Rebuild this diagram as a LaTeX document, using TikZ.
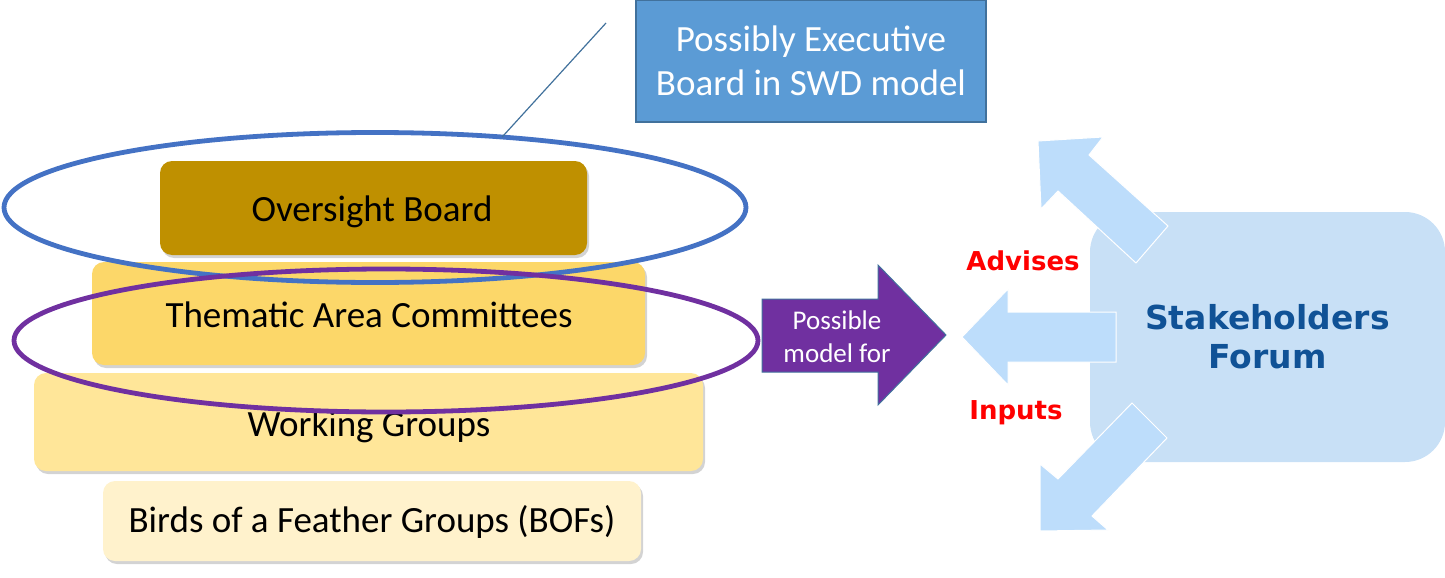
\documentclass[tikz,border=0pt]{standalone}
\usepackage{fontspec}
\setmainfont{Carlito}
\newfontfamily\verd{DejaVu Sans}
\usetikzlibrary{shapes.geometric,shadows}
\definecolor{gold}{RGB}{191,144,0}
\definecolor{tac}{RGB}{252,215,105}
\definecolor{wg}{RGB}{255,230,153}
\definecolor{bof}{RGB}{255,242,204}
\definecolor{ringblue}{RGB}{68,114,196}
\definecolor{ringpurple}{RGB}{112,48,160}
\definecolor{execblue}{RGB}{91,155,213}
\definecolor{edgeblue}{RGB}{65,113,156}
\definecolor{forumbg}{RGB}{200,224,246}
\definecolor{forumarr}{RGB}{189,221,251}
\definecolor{forumtxt}{RGB}{16,82,150}
\begin{document}
\begin{tikzpicture}[x=1pt,y=-1pt,
  tier/.style={rounded corners=12pt,inner sep=0pt,font=\fontsize{37}{44}\selectfont,
    drop shadow={opacity=0.35,shadow xshift=2pt,shadow yshift=-3pt}},
  tierlbl/.style={font=\fontsize{37}{44}\selectfont},
  ring/.style={ellipse,draw,line width=4.8pt,inner sep=0pt,outer sep=0pt},
  redlbl/.style={text=red,font=\verd\bfseries\fontsize{26}{30}\selectfont}]
\useasboundingbox(0,0)rectangle(1445,578);
\node[tier,fill=gold,minimum width=427,minimum height=94](ob)at(373.5,208){};
\node[tierlbl](oblbl)at(372,212){Oversight Board};
\node[tier,fill=tac,minimum width=553,minimum height=103](tac)at(368.5,313.5){};
\node[tierlbl](taclbl)at(369,315){Thematic Area Committees};
\node[tier,fill=wg,minimum width=669,minimum height=98](wg)at(368.5,422){};
\node[tierlbl](wglbl)at(369,427){Working Groups};
\node[tier,fill=bof,minimum width=538,minimum height=80](bof)at(372,521){};
\node[tierlbl](boflbl)at(372,522){Birds of a Feather Groups (BOFs)};
\node[ring,draw=ringblue,minimum width=742,minimum height=150](obring)at(375,207.5){};
\node[ring,draw=ringpurple,minimum width=744,minimum height=143](tacring)at(386,340.5){};
\node[fill=execblue,draw=edgeblue,line width=1.5pt,minimum width=350,minimum height=122,
  text=white,align=center,font=\fontsize{37}{44}\selectfont](exec)at(811,61)
  {Possibly Executive\\Board in SWD model};
\coordinate(callout)at(606,23);
\draw[edgeblue,line width=1.2pt](obring.29)--(callout);
\draw[fill=ringpurple,draw=edgeblue,line width=1pt]
  (762,299)--(878,299)--(878,265)--(946,335)--(878,405)--(878,372)--(762,372)--cycle;
\node[text=white,align=center,font=\fontsize{27}{33}\selectfont](model)at(837,337)
  {Possible\\model for};
\node[fill=forumbg,rounded corners=40pt,minimum width=355,minimum height=250,
  text=forumtxt,align=center,font=\verd\bfseries\fontsize{33}{39}\selectfont](forum)
  at(1267.5,337){Stakeholders\\Forum};
\fill[forumarr,draw=white,line width=1pt]
  (1116,312)--(1008,312)--(1008,289)--(962,337)--(1008,385)--(1008,362)--(1116,362)--cycle;
\fill[forumarr,draw=white,line width=1pt]
  (1038,141)--(1103,137)--(1089,155)--(1168,226)--(1136,263)--(1058,191)--(1041,209)--cycle;
\fill[forumarr,draw=white,line width=1pt]
  (1132,403)--(1167,438)--(1092,516)--(1108,530)--(1040,531)--(1040,464)--(1058,479)--cycle;
\node[redlbl](adv)at(1023,261){Advises};
\node[redlbl](inp)at(1016,413){Inputs};
\end{tikzpicture}
\end{document}
